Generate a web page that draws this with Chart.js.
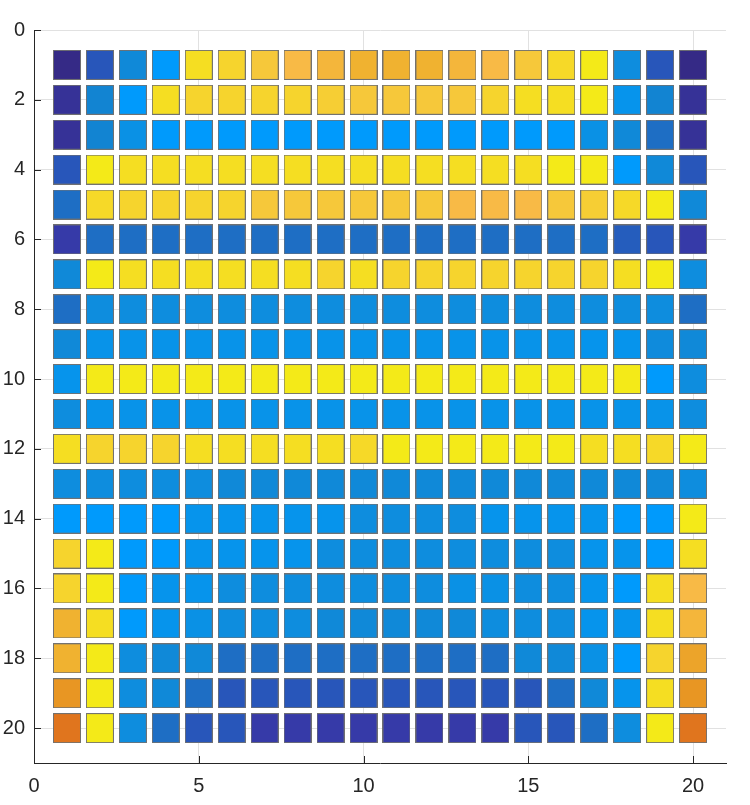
<!DOCTYPE html>
<html>
<head>
<meta charset="utf-8">
<script src="https://cdn.jsdelivr.net/npm/chart.js@4/dist/chart.umd.min.js"></script>
<style>
  html, body { margin: 0; background: #fff; }
  #wrap { width: 750px; height: 805px; }
</style>
</head>
<body>
<div id="wrap"><canvas id="cells"></canvas></div>
<script>
// grid positions and tick labels
const colIndex = [1, 2, 3, 4, 5, 6, 7, 8, 9, 10, 11, 12, 13, 14, 15, 16, 17, 18, 19, 20];
const rowIndex = [1, 2, 3, 4, 5, 6, 7, 8, 9, 10, 11, 12, 13, 14, 15, 16, 17, 18, 19, 20];
const xTicks = [0, 5, 10, 15, 20];
const yTicks = [0, 2, 4, 6, 8, 10, 12, 14, 16, 18, 20];

// cell values (colour level, 0 = dark blue ... 7 = bright blue, 8 = yellow ... 15 = orange)
const row01 = [0, 2, 4.5, 7, 9, 10, 11, 12, 12.5, 13, 13, 13, 12.5, 12, 11, 9.5, 8, 5, 2, 0];
const row02 = [0.5, 4, 7, 9, 10, 10, 10, 10, 10.5, 11, 11, 11, 11, 10, 9, 9, 8, 6, 4, 0.5];
const row03 = [0.5, 4, 5.5, 7, 7, 7, 7, 7, 7, 7, 7, 7, 7, 7, 7, 7, 5.5, 4.5, 3, 0.5];
const row04 = [2, 8, 9, 9, 9, 9, 9, 9, 9, 9, 9, 9, 9, 9, 9, 8, 8, 7, 4.5, 2];
const row05 = [3, 9.5, 10, 10, 10, 10, 11, 11, 11, 11, 11, 11, 12, 12, 12, 11, 10.5, 9.5, 8, 4.5];
const row06 = [1, 3, 3, 3, 3, 3, 3, 3, 3, 3, 3, 3, 3, 3, 3, 3, 3, 2.3, 2, 1];
const row07 = [4.5, 8, 9, 9, 9, 9, 9, 9, 10, 9, 10, 10, 10, 10, 10, 10, 10, 9, 8, 5];
const row08 = [3, 5, 5, 5, 5, 5, 5, 5, 5, 5, 5, 5, 5, 5, 5, 5, 5, 5, 5, 3];
const row09 = [4.5, 5.8, 5.8, 5.8, 5.8, 5.8, 5.8, 5.8, 5.8, 5.8, 5.8, 5.8, 5.8, 5.8, 5.8, 5.8, 6, 6, 4.8, 4.5];
const row10 = [6, 8, 8, 8, 8, 8, 8, 8, 8, 8, 8, 8, 8, 8, 8, 8, 8, 8, 7, 5];
const row11 = [5, 5.8, 5.8, 5.8, 5.8, 5.8, 5.8, 5.8, 5.8, 5.8, 5.8, 5.8, 5.8, 5.8, 5.8, 5.8, 5.8, 5.8, 5.8, 5];
const row12 = [9, 10, 10, 10, 9, 9, 9, 9, 9, 9.5, 8, 8, 8, 8, 8, 8, 9, 9, 9.5, 8];
const row13 = [5, 5, 5, 5, 5, 4.5, 4.5, 4.5, 4.5, 4.5, 4.5, 4.5, 4.5, 4.5, 4.5, 4.5, 4.5, 4.5, 4.5, 5];
const row14 = [7, 7, 7, 7, 6, 6, 6, 6, 6, 5, 5, 5, 5, 6, 6, 6, 6, 7, 7, 8];
const row15 = [10, 8, 7, 7, 6, 6, 6, 6, 5, 5, 5, 5, 5, 5, 5, 5, 6, 6, 7, 9];
const row16 = [10, 8, 7, 6, 6, 5, 5, 5, 5, 5, 5, 5, 5.5, 5.5, 5, 5, 6, 7, 9, 12];
const row17 = [13, 9, 7, 6, 5.5, 5, 5, 5, 4.5, 4.5, 4.5, 4.5, 4.5, 5, 5, 5, 6, 6, 9, 12.5];
const row18 = [13, 8, 5, 4.5, 4.5, 3, 3, 3, 3, 3, 3, 3, 3, 3, 4.5, 4.5, 5.5, 7, 10, 13.5];
const row19 = [14, 8, 5, 4.5, 3, 2, 2, 2, 2, 2, 2, 2, 2, 2, 2, 3, 4.5, 6, 9, 14];
const row20 = [15, 8, 5, 3, 2, 2, 1, 1, 1, 1, 1, 1, 1, 1, 2, 2, 3, 5, 8, 15];

const rows = [row01, row02, row03, row04, row05, row06, row07, row08, row09, row10,
              row11, row12, row13, row14, row15, row16, row17, row18, row19, row20];

// colour map, one stop per level
const levelColors = [
  [53, 42, 134], [54, 58, 168], [40, 86, 186], [30, 110, 196],
  [18, 132, 210], [14, 141, 222], [6, 148, 236], [0, 154, 252],
  [244, 234, 24], [245, 222, 34], [246, 212, 45], [246, 200, 58],
  [248, 186, 70], [240, 178, 48], [232, 150, 35], [224, 117, 30]
];

function colorFor(v) {
  const lo = Math.floor(v);
  const hi = Math.min(Math.ceil(v), levelColors.length - 1);
  const t = v - lo;
  const a = levelColors[lo], b = levelColors[hi];
  const c = a.map((ch, i) => Math.round(ch + (b[i] - ch) * t));
  return `rgb(${c[0]},${c[1]},${c[2]})`;
}

// slightly tall square marker, one small canvas per colour
const markerCache = {};
function marker(color) {
  if (markerCache[color]) return markerCache[color];
  const c = document.createElement("canvas");
  c.width = 28;
  c.height = 30;
  const g = c.getContext("2d");
  g.fillStyle = color;
  g.fillRect(0.5, 0.5, 27, 29);
  g.strokeStyle = "rgba(110,110,110,0.95)";
  g.lineWidth = 1;
  g.strokeRect(0.5, 0.5, 27, 29);
  markerCache[color] = c;
  return c;
}

const points = [];
const styles = [];
rowIndex.forEach((r, i) => {
  colIndex.forEach((c, j) => {
    points.push({ x: c, y: r });
    styles.push(marker(colorFor(rows[i][j])));
  });
});

const tickFont = { family: "'Liberation Sans', Arial, sans-serif", size: 20 };
const axisColor = "#262626";

// MATLAB style inward tick marks
const innerTicks = {
  id: "innerTicks",
  afterDraw(chart) {
    const { ctx, chartArea: a, scales } = chart;
    ctx.save();
    ctx.strokeStyle = axisColor;
    ctx.lineWidth = 1;
    ctx.beginPath();
    scales.x.ticks.forEach(t => {
      const px = Math.round(scales.x.getPixelForValue(t.value)) + 0.5;
      ctx.moveTo(px, a.bottom);
      ctx.lineTo(px, a.bottom - 7);
    });
    scales.y.ticks.forEach(t => {
      const py = Math.round(scales.y.getPixelForValue(t.value)) + 0.5;
      ctx.moveTo(a.left, py);
      ctx.lineTo(a.left + 7, py);
    });
    ctx.stroke();
    ctx.restore();
  }
};

new Chart(document.getElementById("cells"), {
  type: "scatter",
  data: {
    datasets: [{
      data: points,
      pointStyle: styles,
      pointRadius: 15,
      pointHoverRadius: 15,
    }],
  },
  options: {
    responsive: true,
    maintainAspectRatio: false,
    animation: false,
    events: [],
    layout: { padding: { top: 30, right: 24, bottom: 0, left: 0 } },
    plugins: { legend: { display: false }, tooltip: { enabled: false } },
    scales: {
      x: {
        type: "linear",
        position: "bottom",
        min: 0,
        max: 21,
        afterBuildTicks: s => { s.ticks = xTicks.map(v => ({ value: v })); },
        ticks: { font: tickFont, color: axisColor, padding: 11, maxRotation: 0 },
        grid: { color: "#e1e1e1", drawTicks: false },
        border: { color: axisColor, width: 1 },
        afterFit: s => { s.height = 42; },
      },
      y: {
        type: "linear",
        reverse: true,
        min: 0,
        max: 21,
        afterBuildTicks: s => { s.ticks = yTicks.map(v => ({ value: v })); },
        ticks: { font: tickFont, color: axisColor, padding: 9 },
        grid: { color: "#e1e1e1", drawTicks: false },
        border: { color: axisColor, width: 1 },
        afterFit: s => { s.width = 34; },
      },
    },
  },
  plugins: [innerTicks],
});
</script>
</body>
</html>
